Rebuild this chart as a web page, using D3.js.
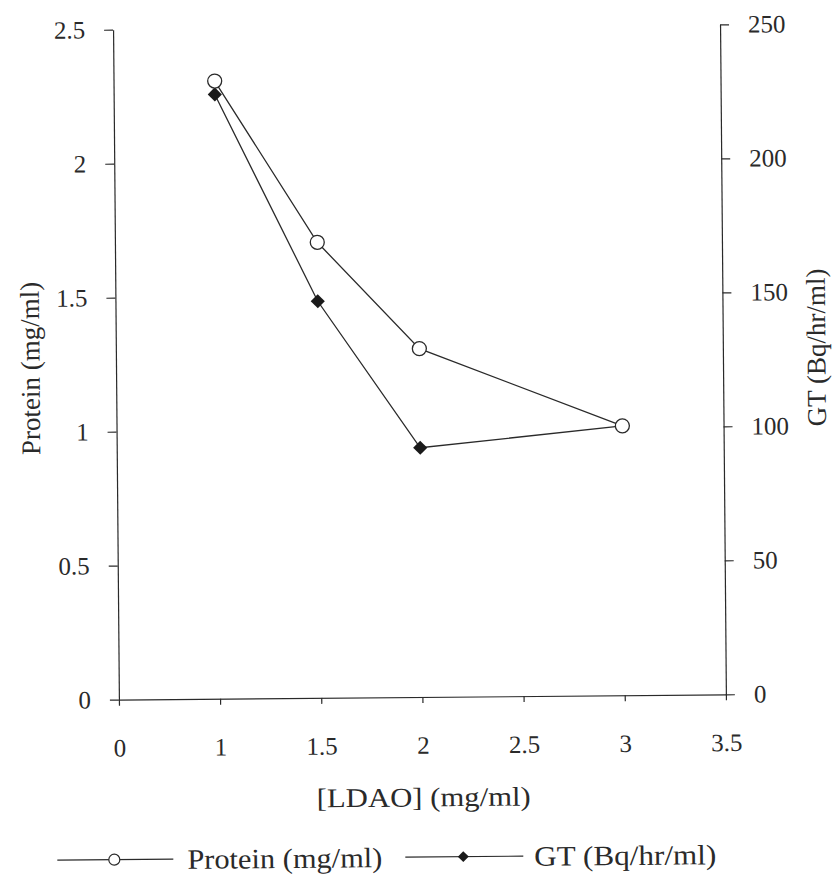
<!DOCTYPE html>
<html>
<head>
<meta charset="utf-8">
<script src="https://cdn.jsdelivr.net/npm/d3@7"></script>
<style>
  html, body { margin: 0; padding: 0; background: #fff; }
  text { font-family: "Liberation Serif", "Times New Roman", serif; fill: #2a2a2a; }
</style>
</head>
<body>
<svg id="chart" width="836" height="882"></svg>
<script>
// ---- data ----
const xTickValues = [0, 1, 1.5, 2, 2.5, 3, 3.5];
const ldao = [1, 1.5, 2, 3];
const protein = [2.305, 1.70, 1.30, 1.005];
const gt = [225.5, 148, 93, 100.5];
const leftTicks = [0, 0.5, 1, 1.5, 2, 2.5];
const rightTicks = [0, 50, 100, 150, 200, 250];
const seriesNames = ["Protein (mg/ml)", "GT (Bq/hr/ml)"];
const xTitle = "[LDAO] (mg/ml)";

// ---- layout ----
const L = 116, R = 723, T = 27, B = 697;
const ink = "#2a2a2a";

const svg = d3.select("#chart");
const root = svg.append("g").attr("transform", "rotate(-0.5, 420, 365)");

// polylinear x scale: tick labels evenly spaced along the axis
const step = (R - L) / (xTickValues.length - 1);
const x = d3.scaleLinear()
  .domain(xTickValues)
  .range(xTickValues.map((d, i) => L + i * step));
const yL = d3.scaleLinear().domain([0, 2.5]).range([B, T]);
const yR = d3.scaleLinear().domain([0, 250]).range([B, T]);

function styleAxis(g) {
  g.selectAll("path, line").attr("stroke", ink).attr("stroke-width", 1.2);
  g.selectAll("text").attr("fill", ink).style("font-size", "25px")
    .style("font-family", '"Liberation Serif", serif');
}

// x axis
root.append("g").attr("transform", `translate(0,${B})`)
  .call(d3.axisBottom(x).tickValues(xTickValues).tickFormat(d3.format("")).tickSize(6).tickSizeOuter(0).tickPadding(33))
  .call(styleAxis);

// left axis
root.append("g").attr("transform", `translate(${L},0)`)
  .call(d3.axisLeft(yL).tickValues(leftTicks).tickFormat(d3.format("")).tickSize(9).tickSizeOuter(0).tickPadding(19))
  .call(styleAxis);

// right axis
root.append("g").attr("transform", `translate(${R},0)`)
  .call(d3.axisRight(yR).tickValues(rightTicks).tickFormat(d3.format("")).tickSize(9).tickSizeOuter(0).tickPadding(19))
  .call(styleAxis);

// lines
const protData = ldao.map((d, i) => [d, protein[i]]);
const gtData = ldao.map((d, i) => [d, gt[i]]);
const lineP = d3.line().x(d => x(d[0])).y(d => yL(d[1]));
const lineG = d3.line().x(d => x(d[0])).y(d => yR(d[1]));

root.append("path").datum(gtData).attr("d", lineG)
  .attr("fill", "none").attr("stroke", ink).attr("stroke-width", 1.3);
root.append("path").datum(protData).attr("d", lineP)
  .attr("fill", "none").attr("stroke", ink).attr("stroke-width", 1.3);

root.selectAll(".gt").data(gtData).join("path")
  .attr("d", d3.symbol().type(d3.symbolSquare).size(100))
  .attr("transform", d => `translate(${x(d[0])},${yR(d[1])}) rotate(45)`)
  .attr("fill", "#1a1a1a");

root.selectAll(".pc").data(protData).join("circle")
  .attr("cx", d => x(d[0])).attr("cy", d => yL(d[1])).attr("r", 7)
  .attr("fill", "#fff").attr("stroke", ink).attr("stroke-width", 1.3);

// axis titles
root.append("text").attr("x", 420).attr("y", 797).attr("dy", "0.35em")
  .attr("text-anchor", "middle").style("font-size", "27px")
  .attr("textLength", 214).attr("lengthAdjust", "spacingAndGlyphs").text(xTitle);
root.append("text").attr("transform", "translate(30,365) rotate(-90)").attr("dy", "0.35em")
  .attr("text-anchor", "middle").style("font-size", "27px").text(seriesNames[0]);
root.append("text").attr("transform", "translate(816,351) rotate(-90)").attr("dy", "0.35em")
  .attr("text-anchor", "middle").style("font-size", "27px").text(seriesNames[1]);

// legend
const legY = 857;
const leg = root.append("g");
const items = [
  { x0: 53, x1: 169, mx: 110, tx: 183, tl: 195, type: "circle", name: seriesNames[0] },
  { x0: 401, x1: 519, mx: 459, tx: 530, tl: 182, type: "diamond", name: seriesNames[1] }
];
items.forEach(it => {
  leg.append("line").attr("x1", it.x0).attr("x2", it.x1).attr("y1", legY).attr("y2", legY)
    .attr("stroke", ink).attr("stroke-width", 1.2);
  if (it.type === "circle") {
    leg.append("circle").attr("cx", it.mx).attr("cy", legY).attr("r", 5.5)
      .attr("fill", "#fff").attr("stroke", ink).attr("stroke-width", 1.2);
  } else {
    leg.append("path").attr("d", d3.symbol().type(d3.symbolSquare).size(60))
      .attr("transform", `translate(${it.mx},${legY}) rotate(45)`).attr("fill", "#1a1a1a");
  }
  leg.append("text").attr("x", it.tx).attr("y", legY).attr("dy", "0.35em")
    .style("font-size", "28px").attr("textLength", it.tl).attr("lengthAdjust", "spacingAndGlyphs")
    .text(it.name);
});
</script>
</body>
</html>
